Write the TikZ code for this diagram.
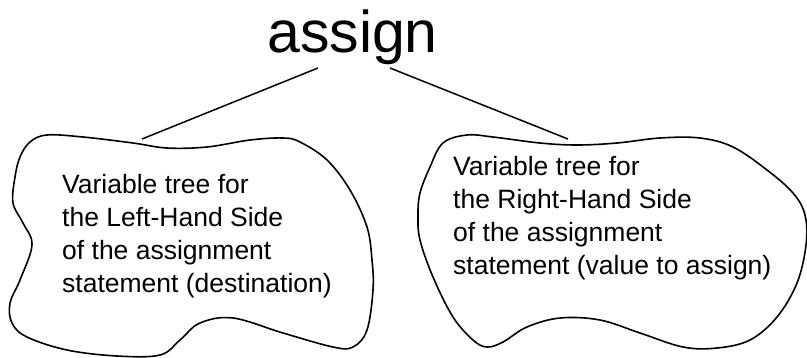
\documentclass[tikz,border=0pt]{standalone}
\usepackage{fontspec}
\setmainfont{Liberation Sans}
\begin{document}
\begin{tikzpicture}[x=1pt,y=-1pt,
  outline/.style={line width=1.6pt,line join=round},
  edge/.style={line width=1.5pt},
  blurb/.style={anchor=base west,inner sep=0pt},
  rootlabel/.style={anchor=base,inner sep=0pt,font=\fontsize{59}{70}\selectfont}]
\useasboundingbox (0,0) rectangle (807,357);

% root of the tree
\node[rootlabel] (root) at (352.5,52) {assign};

% left subtree outline
\draw[outline] plot[smooth cycle,tension=0.6] coordinates {
  (30,142) (47,135) (83,137) (133,143) (167,148) (207,147) (250,140)
  (283,138) (300,142) (327,160) (350,190) (367,227) (372,260) (373,290)
  (367,330) (353,347) (333,347) (283,333) (233,318) (200,323) (180,340)
  (160,355) (117,356) (67,350) (27,337) (12,323) (10,303) (20,280)
  (32,245) (23,223) (13,203) (15,177) (20,157)};

% right subtree outline
\draw[outline] plot[smooth cycle,tension=0.6] coordinates {
  (443,143) (467,135) (493,137) (540,143) (577,145) (617,143) (660,138)
  (700,138) (733,147) (767,170) (793,193) (805,215) (806,245) (797,283)
  (777,317) (750,340) (717,348) (683,347) (640,333) (600,320) (560,318)
  (527,327) (503,342) (487,347) (473,340) (453,317) (433,277) (420,240)
  (418,215) (420,193) (430,167)};

% subtree descriptions
\node[blurb] (lhs) at (62,193) {\fontsize{26.5}{33.3}\selectfont
  \begin{tabular}[t]{@{}l@{}}Variable tree for\\the Left-Hand Side\\of the assignment\\statement (destination)\end{tabular}};
\node[blurb] (rhs) at (453,175) {\fontsize{26.5}{33.3}\selectfont
  \begin{tabular}[t]{@{}l@{}}Variable tree for\\the Right-Hand Side\\of the assignment\\statement (value to assign)\end{tabular}};

% edges from the root to both subtrees
\coordinate (rootL) at (318,68);
\coordinate (rootR) at (390,68);
\coordinate (lhsTop) at (142,139);
\coordinate (rhsTop) at (568,139);
\draw[edge] (rootL) -- (lhsTop);
\draw[edge] (rootR) -- (rhsTop);
\end{tikzpicture}
\end{document}
